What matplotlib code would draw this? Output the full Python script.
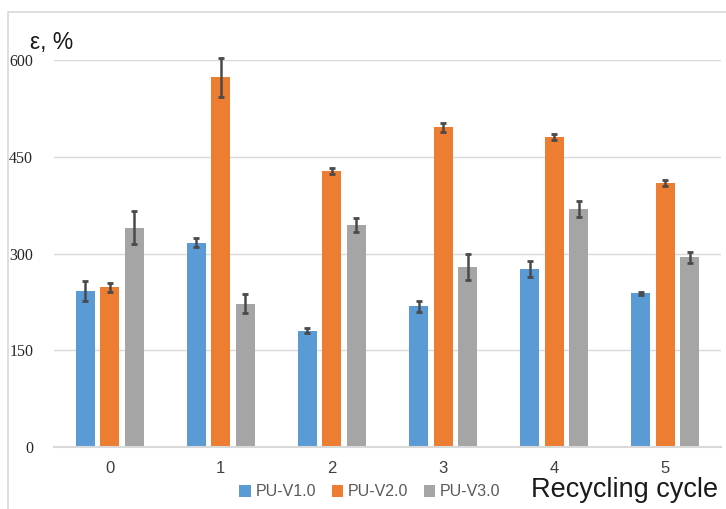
import numpy as np
import matplotlib.pyplot as plt
from matplotlib.patches import Rectangle

# Elongation at break per recycling cycle
cycles = ['0', '1', '2', '3', '4', '5']
series = ['PU-V1.0', 'PU-V2.0', 'PU-V3.0']
v1 = [242, 317, 180, 218, 276, 238]
v1_err = [15, 7, 4, 9, 13, 3]
v2 = [248, 573, 428, 496, 481, 409]
v2_err = [7, 30, 4, 7, 5, 5]
v3 = [340, 222, 344, 279, 369, 294]
v3_err = [26, 15, 11, 20, 12, 9]
yticks = [0, 150, 300, 450, 600]

colors = ['#5B9BD5', '#ED7D31', '#A5A5A5']

fig = plt.figure(figsize=(7.26, 5.09), dpi=100)
ax = fig.add_axes([54 / 726, 1 - 447 / 509, 667 / 726, 387 / 509])

# light frame around the chart
fig.patches.append(Rectangle((8 / 726, -0.1), 1.2, 1 - 12 / 509 + 0.1,
                             transform=fig.transFigure, fill=False,
                             edgecolor='#D9D9D9', linewidth=1.2))

x = np.arange(len(cycles))
width = 0.171
step = 0.221
for i, (vals, errs) in enumerate([(v1, v1_err), (v2, v2_err), (v3, v3_err)]):
    ax.bar(x + (i - 1) * step, vals, width, color=colors[i], label=series[i],
           zorder=2)
    ax.errorbar(x + (i - 1) * step, vals, yerr=errs, fmt='none',
                ecolor='#4A4A4A', elinewidth=1.8, capsize=2.5, capthick=2,
                zorder=3, clip_on=False)

ax.set_xlim(-0.5, 5.5)
ax.set_ylim(0, 600)
ax.set_yticks(yticks)
ax.set_xticks(x)
ax.set_xticklabels(cycles, fontfamily='Liberation Sans', fontsize=12,
                   color='#404040')
ax.set_yticklabels([str(t) for t in yticks], fontfamily='Liberation Serif',
                   fontsize=11.5, color='#262626')
ax.tick_params(axis='both', length=0)
ax.tick_params(axis='y', pad=15)
ax.tick_params(axis='x', pad=10)
ax.yaxis.grid(True, color='#D9D9D9', linewidth=1, zorder=0)
ax.set_axisbelow(True)
for s in ['top', 'right', 'left']:
    ax.spines[s].set_visible(False)
ax.spines['bottom'].set_color('#D9D9D9')
ax.spines['bottom'].set_linewidth(1.5)

fig.text(30 / 726, 1 - 42 / 509, 'ε, %', fontfamily='Liberation Sans',
         fontsize=16.5, va='center', ha='left', color='#1a1a1a')
fig.text(718 / 726, 1 - 490 / 509, 'Recycling cycle',
         fontfamily='Liberation Sans', fontsize=19.5, va='center', ha='right',
         color='#1a1a1a')

handles, labels = ax.get_legend_handles_labels()
fig.legend(handles, labels, loc='center', bbox_to_anchor=(370 / 726, 1 - 492 / 509),
           ncol=3, frameon=False, handlelength=0.7, handleheight=0.7,
           handletextpad=0.3, columnspacing=1.0,
           prop={'family': 'Liberation Sans', 'size': 11.5}, labelcolor='#595959')

fig.savefig('out.png', dpi=100)
